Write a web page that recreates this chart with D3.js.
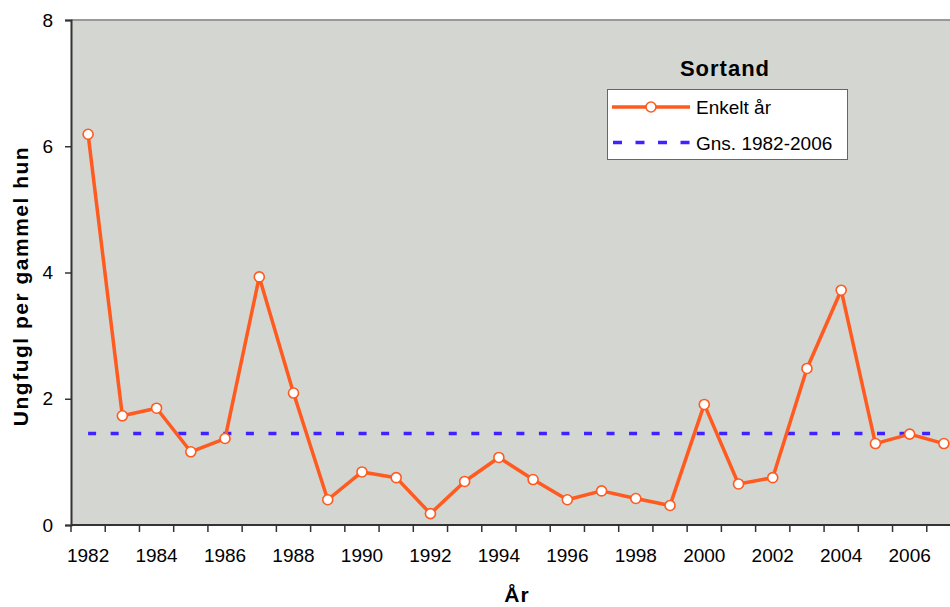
<!DOCTYPE html>
<html>
<head>
<meta charset="utf-8">
<script src="https://cdn.jsdelivr.net/npm/d3@7"></script>
<style>
body { margin: 0; background: #fff; }
svg { display: block; font-family: 'Liberation Sans', Arial, sans-serif; }
</style>
</head>
<body>
<svg width="950" height="607"></svg>
<script>
const years = d3.range(1982, 2008);
const values = [6.19, 1.73, 1.85, 1.16, 1.37, 3.93, 2.09, 0.40, 0.84, 0.75, 0.18, 0.69, 1.07,
	0.72, 0.40, 0.54, 0.42, 0.31, 1.91, 0.65, 0.75, 2.48, 3.72, 1.29, 1.44, 1.29];
const average = 1.45;
const yTicks = [0, 2, 4, 6, 8];
const labelYears = years.filter((d) => (d - 1982) % 2 === 0);
const legendTitle = 'Sortand';
const seriesNames = ['Enkelt år', 'Gns. 1982-2006'];

const orange = '#ff5a1f';
const blue = '#3f22ff';
const plotLeft = 71, plotRight = 961, plotTop = 20, plotBottom = 525;

const svg = d3.select('svg');

const x = d3.scaleBand().domain(years).range([plotLeft, plotRight]).padding(0);
const cx = (d) => x(d) + x.bandwidth() / 2;
const y = d3.scaleLinear().domain([0, 8]).range([plotBottom, plotTop]);

// plot area
svg.append('rect')
	.attr('x', plotLeft).attr('y', plotTop)
	.attr('width', plotRight - plotLeft).attr('height', plotBottom - plotTop)
	.attr('fill', '#d4d6d1');
svg.append('line')
	.attr('x1', plotLeft).attr('x2', plotRight).attr('y1', plotTop).attr('y2', plotTop)
	.attr('stroke', '#999').attr('stroke-width', 2);

// y axis
const yAxis = svg.append('g')
	.attr('transform', `translate(${plotLeft},0)`)
	.call(d3.axisLeft(y).tickValues(yTicks).tickSize(6).tickPadding(12).tickFormat(d3.format('d')));
yAxis.select('.domain').attr('stroke', '#333').attr('stroke-width', 2);
yAxis.selectAll('.tick line').attr('stroke', '#333').attr('stroke-width', 1.5);
yAxis.selectAll('.tick text').attr('font-size', 19).attr('fill', '#000').attr('font-family', null);

// x axis
const xAxis = svg.append('g').attr('transform', `translate(0,${plotBottom})`);
xAxis.append('line')
	.attr('x1', plotLeft).attr('x2', plotRight)
	.attr('stroke', '#333').attr('stroke-width', 2);
xAxis.selectAll('line.tk')
	.data(years.concat([2008]))
	.enter()
	.append('line')
	.attr('class', 'tk')
	.attr('x1', (d) => (d === 2008 ? plotRight : x(d)))
	.attr('x2', (d) => (d === 2008 ? plotRight : x(d)))
	.attr('y1', 0).attr('y2', 7)
	.attr('stroke', '#333').attr('stroke-width', 1.5);
xAxis.selectAll('text')
	.data(labelYears)
	.enter()
	.append('text')
	.attr('x', cx)
	.attr('y', 37)
	.attr('text-anchor', 'middle')
	.attr('font-size', 19)
	.text((d) => d);

// average line
svg.append('line')
	.attr('x1', cx(1982)).attr('x2', cx(2007))
	.attr('y1', y(average)).attr('y2', y(average))
	.attr('stroke', blue).attr('stroke-width', 3.5)
	.attr('stroke-dasharray', '8,14.54');

// yearly series
const line = d3.line().x((d, i) => cx(years[i])).y((d) => y(d));
svg.append('path')
	.datum(values)
	.attr('d', line)
	.attr('fill', 'none')
	.attr('stroke', orange)
	.attr('stroke-width', 3.5)
	.attr('stroke-linejoin', 'round');
svg.selectAll('circle.pt')
	.data(values)
	.enter()
	.append('circle')
	.attr('class', 'pt')
	.attr('cx', (d, i) => cx(years[i]))
	.attr('cy', (d) => y(d))
	.attr('r', 5)
	.attr('fill', '#fff')
	.attr('stroke', orange)
	.attr('stroke-width', 1.6);

// legend
svg.append('text')
	.attr('x', 725).attr('y', 76)
	.attr('text-anchor', 'middle')
	.attr('font-size', 22).attr('font-weight', 'bold')
	.attr('letter-spacing', 1)
	.text(legendTitle);
svg.append('rect')
	.attr('x', 607.5).attr('y', 89.5).attr('width', 240).attr('height', 70)
	.attr('fill', '#fff').attr('stroke', '#666').attr('stroke-width', 1);
svg.append('line')
	.attr('x1', 612).attr('x2', 690).attr('y1', 107).attr('y2', 107)
	.attr('stroke', orange).attr('stroke-width', 3.5);
svg.append('circle')
	.attr('cx', 651).attr('cy', 107).attr('r', 5)
	.attr('fill', '#fff').attr('stroke', orange).attr('stroke-width', 1.6);
svg.append('line')
	.attr('x1', 613).attr('x2', 690).attr('y1', 142.5).attr('y2', 142.5)
	.attr('stroke', blue).attr('stroke-width', 3.5)
	.attr('stroke-dasharray', '9,13.5');
svg.selectAll('text.leg')
	.data(seriesNames)
	.enter()
	.append('text')
	.attr('class', 'leg')
	.attr('x', 696)
	.attr('y', (d, i) => 113.5 + i * 36)
	.attr('font-size', 19)
	.text((d) => d);

// axis titles
svg.append('text')
	.attr('x', 517).attr('y', 602)
	.attr('text-anchor', 'middle')
	.attr('font-size', 21).attr('font-weight', 'bold')
	.attr('letter-spacing', 1)
	.text('År');
svg.append('text')
	.attr('transform', 'translate(28,286) rotate(-90)')
	.attr('text-anchor', 'middle')
	.attr('font-size', 21).attr('font-weight', 'bold')
	.attr('letter-spacing', 1.5)
	.text('Ungfugl per gammel hun');
</script>
</body>
</html>
